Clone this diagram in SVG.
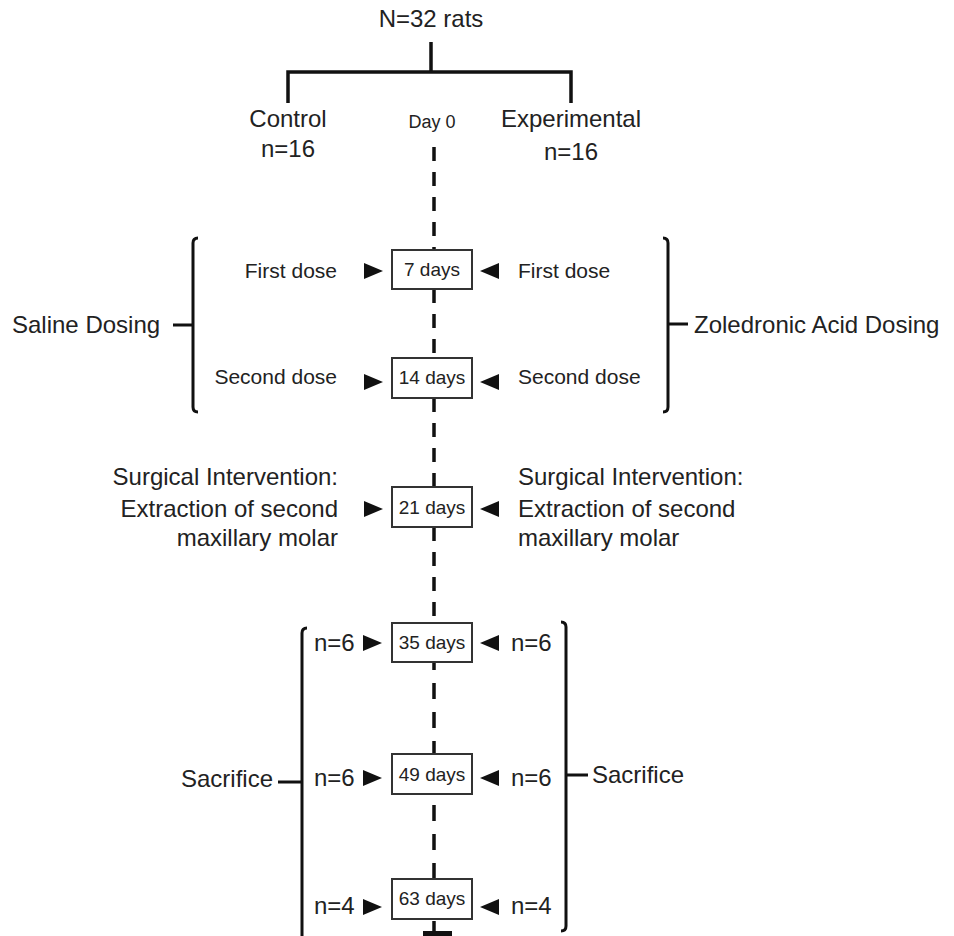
<svg xmlns="http://www.w3.org/2000/svg" width="954" height="936" viewBox="0 0 954 936">
<style>
text{font-family:"Liberation Sans",Arial,sans-serif;fill:#222}
.t24{font-size:24px}
.t21{font-size:21px}
.bx{font-size:19px;text-anchor:middle}
.box{fill:#fff;stroke:#333;stroke-width:2}
.ln{stroke:#111;stroke-width:3.5;fill:none}
.br{stroke:#111;stroke-width:3;fill:none;stroke-linejoin:round}
.dash{stroke:#111;stroke-width:3.5;stroke-dasharray:14 11}
.arr{fill:#111}
</style>
<rect width="954" height="936" fill="#fff"/>
<g id="connectors">
  <path class="ln" d="M431,42 V72 M288,103 V72 H571 V103"/>
  <line class="dash" x1="434" y1="147" x2="434" y2="250"/>
  <line class="dash" x1="434" y1="289" x2="434" y2="358"/>
  <line class="dash" x1="434" y1="398" x2="434" y2="487"/>
  <line class="dash" x1="434" y1="527" x2="434" y2="623"/>
  <line class="dash" x1="434" y1="662" x2="434" y2="754" style="stroke-dasharray:16 13;stroke-dashoffset:8"/>
  <line class="dash" x1="434" y1="794" x2="434" y2="879" style="stroke-dasharray:16 13;stroke-dashoffset:18"/>
  <line class="ln" x1="434" y1="921" x2="434" y2="931"/>
  <rect x="423" y="931" width="29" height="8" fill="#111"/>
</g>
<g id="root"><text class="t24" x="431" y="27" text-anchor="middle">N=32 rats</text></g>
<g id="control"><text class="t24" x="288" y="127" text-anchor="middle">Control</text><text class="t24" x="288" y="157" text-anchor="middle">n=16</text></g>
<g id="experimental"><text class="t24" x="571" y="127" text-anchor="middle">Experimental</text><text class="t24" x="571" y="160" text-anchor="middle">n=16</text></g>
<g id="day0"><text x="432" y="128" font-size="18" text-anchor="middle">Day 0</text></g>
<g id="saline">
  <path class="br" d="M198,238 Q193,238 193,243 V407 Q193,412 198,412 M173,325 H193"/>
  <text class="t24" x="12" y="333">Saline Dosing</text>
</g>
<g id="zoledronic">
  <path class="br" d="M663,238 Q668,238 668,243 V407 Q668,412 663,412 M668,324 H688"/>
  <text class="t24" x="694" y="333">Zoledronic Acid Dosing</text>
</g>
<g id="d7">
  <rect class="box" x="392" y="250" width="80" height="39"/>
  <text class="bx" x="432" y="276">7 days</text>
  <text class="t21" x="337" y="278" text-anchor="end">First dose</text>
  <text class="t21" x="518" y="278">First dose</text>
  <polygon class="arr" points="364,263 383,271 364,279"/>
  <polygon class="arr" points="499,263 480,271 499,279"/>
</g>
<g id="d14">
  <rect class="box" x="392" y="358" width="80" height="40"/>
  <text class="bx" x="432" y="384">14 days</text>
  <text class="t21" x="337" y="384" text-anchor="end">Second dose</text>
  <text class="t21" x="518" y="384">Second dose</text>
  <polygon class="arr" points="364,374 383,382 364,390"/>
  <polygon class="arr" points="499,374 480,382 499,390"/>
</g>
<g id="d21">
  <rect class="box" x="392" y="487" width="80" height="40"/>
  <text class="bx" x="432" y="514">21 days</text>
  <text class="t24" x="338" y="485" text-anchor="end">Surgical Intervention:</text>
  <text class="t24" x="338" y="517" text-anchor="end">Extraction of second</text>
  <text class="t24" x="338" y="546" text-anchor="end">maxillary molar</text>
  <text class="t24" x="518" y="485">Surgical Intervention:</text>
  <text class="t24" x="518" y="517">Extraction of second</text>
  <text class="t24" x="518" y="546">maxillary molar</text>
  <polygon class="arr" points="364,501 383,509 364,517"/>
  <polygon class="arr" points="499,501 480,509 499,517"/>
</g>
<g id="sacrifice-left">
  <path class="br" d="M307,628 Q302,628 302,633 V940 M278,782 H302"/>
  <text class="t24" x="273" y="787" text-anchor="end">Sacrifice</text>
</g>
<g id="sacrifice-right">
  <path class="br" d="M561,622 Q566,622 566,627 V926 Q566,931 561,931 M566,775 H588"/>
  <text class="t24" x="592" y="783">Sacrifice</text>
</g>
<g id="d35">
  <rect class="box" x="392" y="623" width="80" height="39"/>
  <text class="bx" x="432" y="649">35 days</text>
  <text class="t24" x="314" y="651">n=6</text>
  <text class="t24" x="511" y="651">n=6</text>
  <polygon class="arr" points="363,635 382,643 363,651"/>
  <polygon class="arr" points="499,635 480,643 499,651"/>
</g>
<g id="d49">
  <rect class="box" x="392" y="754" width="80" height="40"/>
  <text class="bx" x="432" y="781">49 days</text>
  <text class="t24" x="314" y="786">n=6</text>
  <text class="t24" x="511" y="786">n=6</text>
  <polygon class="arr" points="363,770 382,778 363,786"/>
  <polygon class="arr" points="499,770 480,778 499,786"/>
</g>
<g id="d63">
  <rect class="box" x="392" y="879" width="80" height="40"/>
  <text class="bx" x="432" y="905">63 days</text>
  <text class="t24" x="314" y="914">n=4</text>
  <text class="t24" x="511" y="914">n=4</text>
  <polygon class="arr" points="363,899 382,907 363,915"/>
  <polygon class="arr" points="499,899 480,907 499,915"/>
</g>
</svg>
